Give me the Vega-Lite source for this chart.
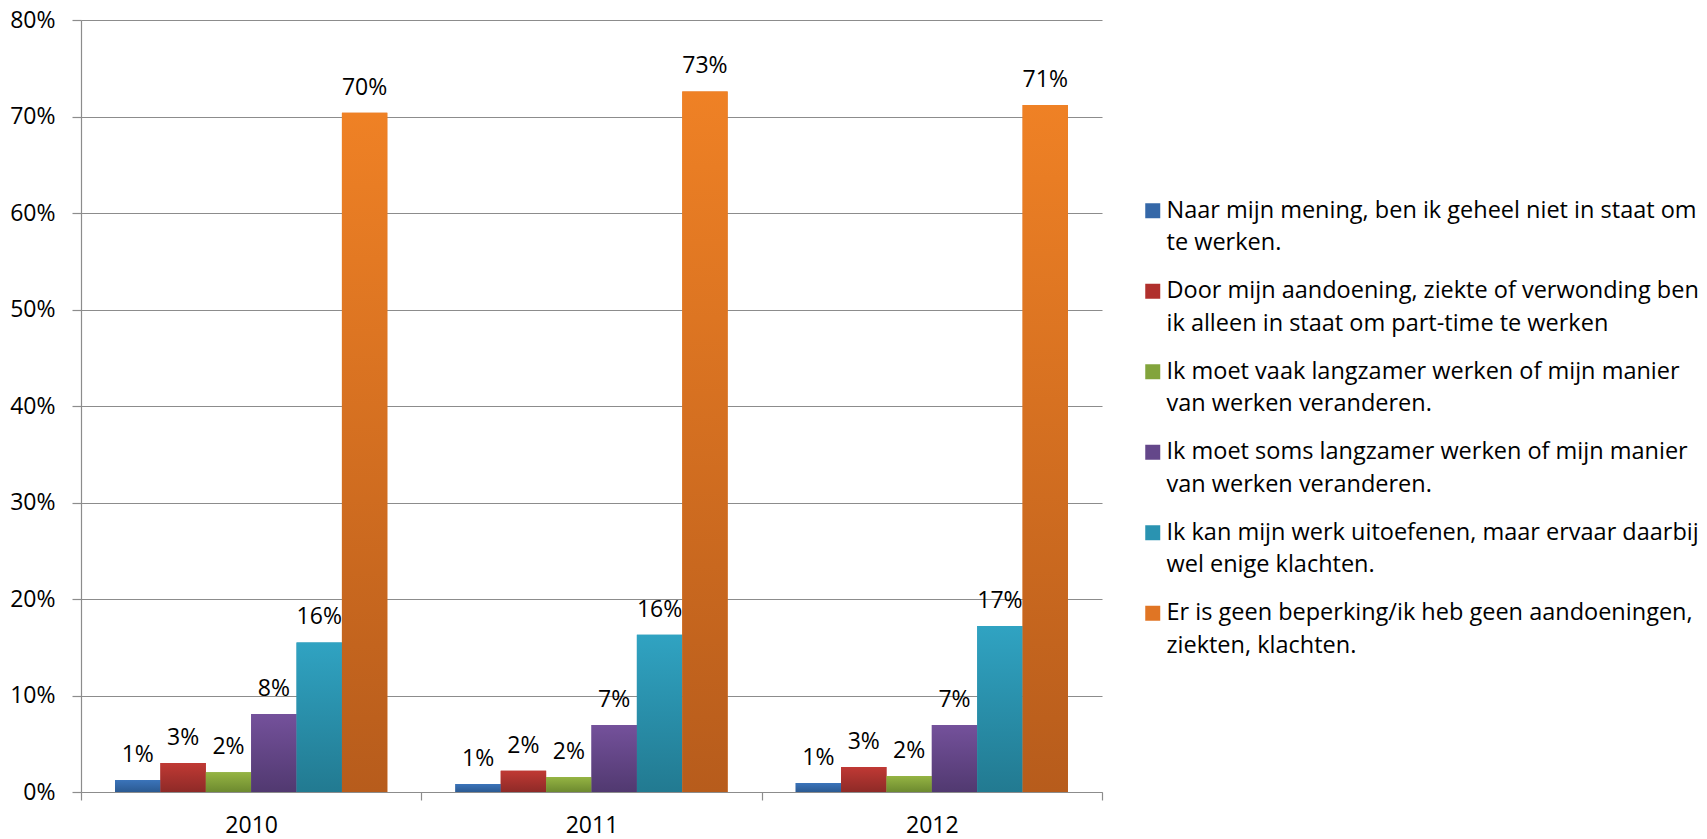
{
  "$schema": "https://vega.github.io/schema/vega-lite/v6.json",
  "autosize": "none",
  "width": 1021,
  "height": 772,
  "padding": {"left": 81, "top": 20, "right": 605, "bottom": 47},
  "background": "white",
  "config": {
    "view": {"stroke": null},
    "font": "Open Sans",
    "axis": {"labelFont": "Open Sans", "labelFontSize": 23, "labelColor": "#000000", "domainColor": "#8c8c8c", "tickColor": "#8c8c8c", "gridColor": "#8c8c8c", "domainWidth": 1.2, "tickWidth": 1.2, "gridWidth": 1.2}
  },
  "data": {
    "values": [
      {"year": "2010", "series": "Naar mijn mening, ben ik geheel niet in staat om\nte werken.", "value": 0.0124},
      {"year": "2010", "series": "Door mijn aandoening, ziekte of verwonding ben\nik alleen in staat om part-time te werken", "value": 0.030},
      {"year": "2010", "series": "Ik moet vaak langzamer werken of mijn manier\nvan werken veranderen.", "value": 0.0204},
      {"year": "2010", "series": "Ik moet soms langzamer werken of mijn manier\nvan werken veranderen.", "value": 0.0808},
      {"year": "2010", "series": "Ik kan mijn werk uitoefenen, maar ervaar daarbij\nwel enige klachten.", "value": 0.155},
      {"year": "2010", "series": "Er is geen beperking/ik heb geen aandoeningen,\nziekten, klachten.", "value": 0.704},
      {"year": "2011", "series": "Naar mijn mening, ben ik geheel niet in staat om\nte werken.", "value": 0.0083},
      {"year": "2011", "series": "Door mijn aandoening, ziekte of verwonding ben\nik alleen in staat om part-time te werken", "value": 0.022},
      {"year": "2011", "series": "Ik moet vaak langzamer werken of mijn manier\nvan werken veranderen.", "value": 0.0155},
      {"year": "2011", "series": "Ik moet soms langzamer werken of mijn manier\nvan werken veranderen.", "value": 0.0694},
      {"year": "2011", "series": "Ik kan mijn werk uitoefenen, maar ervaar daarbij\nwel enige klachten.", "value": 0.163},
      {"year": "2011", "series": "Er is geen beperking/ik heb geen aandoeningen,\nziekten, klachten.", "value": 0.726},
      {"year": "2012", "series": "Naar mijn mening, ben ik geheel niet in staat om\nte werken.", "value": 0.0093},
      {"year": "2012", "series": "Door mijn aandoening, ziekte of verwonding ben\nik alleen in staat om part-time te werken", "value": 0.026},
      {"year": "2012", "series": "Ik moet vaak langzamer werken of mijn manier\nvan werken veranderen.", "value": 0.0166},
      {"year": "2012", "series": "Ik moet soms langzamer werken of mijn manier\nvan werken veranderen.", "value": 0.0694},
      {"year": "2012", "series": "Ik kan mijn werk uitoefenen, maar ervaar daarbij\nwel enige klachten.", "value": 0.172},
      {"year": "2012", "series": "Er is geen beperking/ik heb geen aandoeningen,\nziekten, klachten.", "value": 0.712}
    ]
  },
  "encoding": {
    "x": {
      "field": "year", "type": "nominal",
      "scale": {"paddingInner": 0, "paddingOuter": 0},
      "axis": {"title": null, "labelAngle": 0, "tickSize": 8, "tickBand": "extent", "labelPadding": 14, "grid": false}
    },
    "xOffset": {
      "field": "series", "type": "nominal",
      "scale": {
        "domain": [
          "Naar mijn mening, ben ik geheel niet in staat om\nte werken.",
          "Door mijn aandoening, ziekte of verwonding ben\nik alleen in staat om part-time te werken",
          "Ik moet vaak langzamer werken of mijn manier\nvan werken veranderen.",
          "Ik moet soms langzamer werken of mijn manier\nvan werken veranderen.",
          "Ik kan mijn werk uitoefenen, maar ervaar daarbij\nwel enige klachten.",
          "Er is geen beperking/ik heb geen aandoeningen,\nziekten, klachten."
        ],
        "paddingInner": 0, "paddingOuter": 0.75
      }
    },
    "y": {
      "field": "value", "type": "quantitative",
      "scale": {"domain": [0, 0.8], "nice": false},
      "axis": {"title": null, "format": ".0%", "values": [0, 0.1, 0.2, 0.3, 0.4, 0.5, 0.6, 0.7, 0.8], "grid": true, "tickSize": 9, "labelPadding": 17}
    }
  },
  "layer": [
    {
      "mark": {"type": "bar"},
      "encoding": {
        "color": {
          "field": "series", "type": "nominal",
          "scale": {
            "domain": [
              "Naar mijn mening, ben ik geheel niet in staat om\nte werken.",
              "Door mijn aandoening, ziekte of verwonding ben\nik alleen in staat om part-time te werken",
              "Ik moet vaak langzamer werken of mijn manier\nvan werken veranderen.",
              "Ik moet soms langzamer werken of mijn manier\nvan werken veranderen.",
              "Ik kan mijn werk uitoefenen, maar ervaar daarbij\nwel enige klachten.",
              "Er is geen beperking/ik heb geen aandoeningen,\nziekten, klachten."
            ],
            "range": ["#3568a8", "#b0302d", "#82a43c", "#64478a", "#2a93b1", "#e07524"]
          },
          "legend": {
            "orient": "none", "legendX": 1060, "legendY": 179, "title": null,
            "padding": 0,
            "labelFont": "Open Sans", "labelFontSize": 23.5, "labelColor": "#000000", "labelLimit": 800,
            "labelOffset": 2, "rowPadding": 23.5,
            "symbolType": "square", "symbolSize": 225, "symbolStrokeWidth": 0,
            "labelExpr": "split(datum.label, '\\n')",
            "encode": {"labels": {"update": {"lineHeight": {"value": 32.3}}}}
          }
        }
      }
    },
    {
      "mark": {"type": "bar"},
      "encoding": {
        "color": {
          "condition": [
            {"test": "indexof(datum.series, 'Naar') == 0", "value": {"gradient": "linear", "x1": 0, "y1": 0, "x2": 0, "y2": 1, "stops": [{"offset": 0, "color": "#3b74ba"}, {"offset": 1, "color": "#2b5a92"}]}},
            {"test": "indexof(datum.series, 'Door') == 0", "value": {"gradient": "linear", "x1": 0, "y1": 0, "x2": 0, "y2": 1, "stops": [{"offset": 0, "color": "#c03934"}, {"offset": 1, "color": "#8e2a27"}]}},
            {"test": "indexof(datum.series, 'Ik moet vaak') == 0", "value": {"gradient": "linear", "x1": 0, "y1": 0, "x2": 0, "y2": 1, "stops": [{"offset": 0, "color": "#95b443"}, {"offset": 1, "color": "#6d8a2f"}]}},
            {"test": "indexof(datum.series, 'Ik moet soms') == 0", "value": {"gradient": "linear", "x1": 0, "y1": 0, "x2": 0, "y2": 1, "stops": [{"offset": 0, "color": "#74519b"}, {"offset": 1, "color": "#513970"}]}},
            {"test": "indexof(datum.series, 'Ik kan') == 0", "value": {"gradient": "linear", "x1": 0, "y1": 0, "x2": 0, "y2": 1, "stops": [{"offset": 0, "color": "#30a3c2"}, {"offset": 1, "color": "#227a91"}]}}
          ],
          "value": {"gradient": "linear", "x1": 0, "y1": 0, "x2": 0, "y2": 1, "stops": [{"offset": 0, "color": "#ef8125"}, {"offset": 1, "color": "#b75c1c"}]}
        }
      }
    },
    {
      "mark": {"type": "text", "font": "Open Sans", "fontSize": 23, "color": "#000000", "baseline": "alphabetic", "align": "center", "dy": -18},
      "encoding": {
        "text": {"field": "value", "type": "quantitative", "format": ".0%"}
      }
    }
  ]
}
